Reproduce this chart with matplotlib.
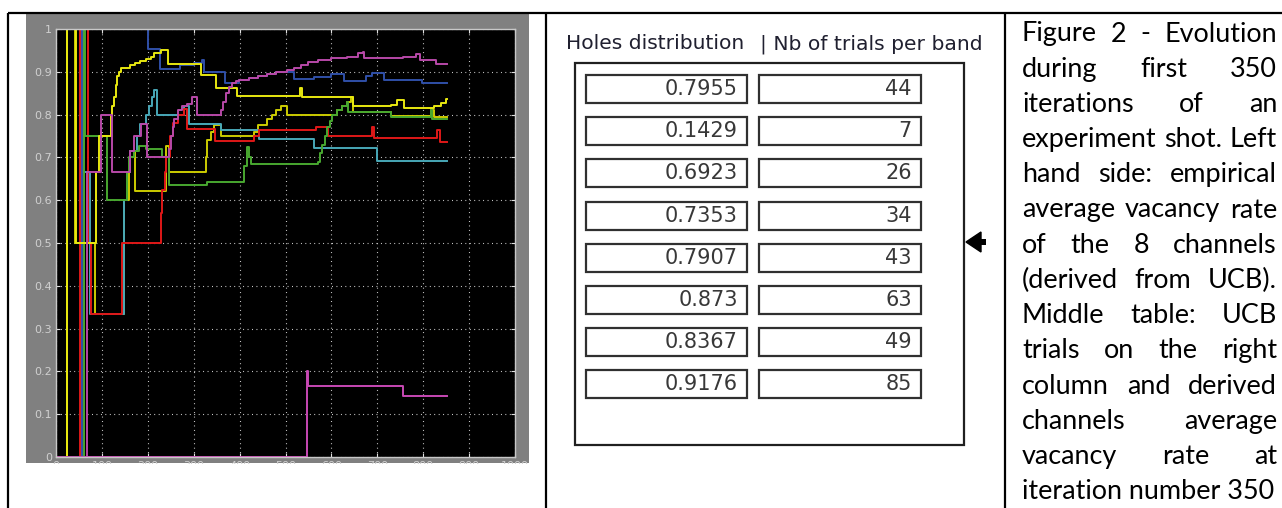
import matplotlib
matplotlib.use('Agg')
import matplotlib.pyplot as plt
from matplotlib.patches import Rectangle, Polygon

# --- datos del scope (iteracion, tasa media de huecos) ---
ch1_x = [0, 24, 41, 86, 148, 158, 162, 173, 240, 247, 326, 330, 337, 344, 359, 432, 440, 460, 470, 479, 490, 504, 613, 624, 635, 642, 646, 729, 816, 824, 852]
ch1_y = [0, 1, 0.5, 0.333, 0.6, 0.667, 0.714, 0.622, 0.727, 0.667, 0.7, 0.74, 0.76, 0.775, 0.75, 0.76, 0.775, 0.79, 0.8, 0.81, 0.82, 0.8, 0.81, 0.82, 0.83, 0.84, 0.807, 0.797, 0.81, 0.7955, 0.7955]

ch2_x = [0, 547, 550, 757, 852]
ch2_y = [0, 0.2, 0.1667, 0.1429, 0.1429]

ch3_x = [0, 55, 58, 73, 148, 155, 162, 177, 184, 195, 202, 210, 213, 221, 279, 290, 359, 443, 562, 700, 852]
ch3_y = [0, 1, 0.667, 0.333, 0.6, 0.667, 0.714, 0.75, 0.778, 0.8, 0.82, 0.84, 0.857, 0.8, 0.82, 0.778, 0.764, 0.742, 0.721, 0.6923, 0.6923]

ch4_x = [0, 52, 70, 77, 143, 228, 232, 237, 240, 248, 255, 265, 279, 286, 347, 432, 443, 566, 593, 689, 693, 831, 836, 852]
ch4_y = [0, 1, 0.5, 0.333, 0.5, 0.571, 0.625, 0.667, 0.7, 0.75, 0.78, 0.8, 0.812, 0.766, 0.739, 0.749, 0.764, 0.772, 0.75, 0.77, 0.745, 0.765, 0.7353, 0.7353]

ch5_x = [0, 62, 63, 111, 155, 160, 170, 180, 195, 230, 247, 330, 410, 416, 421, 424, 570, 575, 580, 585, 590, 596, 602, 613, 624, 635, 637, 729, 816, 820, 852]
ch5_y = [0, 1, 0.75, 0.6, 0.667, 0.7, 0.714, 0.727, 0.72, 0.7, 0.636, 0.643, 0.68, 0.725, 0.7, 0.685, 0.69, 0.71, 0.73, 0.75, 0.77, 0.785, 0.8, 0.81, 0.82, 0.83, 0.805, 0.795, 0.81, 0.7907, 0.7907]

ch6_x = [0, 57, 201, 226, 270, 300, 318, 322, 368, 398, 420, 440, 460, 480, 519, 562, 599, 628, 675, 689, 715, 798, 852]
ch6_y = [0, 1, 0.953, 0.907, 0.915, 0.92, 0.928, 0.9, 0.875, 0.88, 0.885, 0.89, 0.895, 0.9, 0.883, 0.889, 0.895, 0.878, 0.89, 0.898, 0.881, 0.873, 0.873]

ch7_x = [0, 24, 44, 88, 93, 119, 122, 126, 130, 133, 137, 141, 162, 173, 184, 195, 206, 213, 228, 245, 315, 348, 394, 532, 537, 646, 729, 744, 758, 824, 839, 849, 852]
ch7_y = [0, 1, 0.5, 0.667, 0.75, 0.8, 0.82, 0.84, 0.87, 0.89, 0.9, 0.91, 0.915, 0.92, 0.925, 0.93, 0.935, 0.945, 0.952, 0.918, 0.893, 0.862, 0.843, 0.863, 0.84, 0.819, 0.823, 0.834, 0.815, 0.82, 0.826, 0.8367, 0.8367]

ch8_x = [0, 68, 99, 122, 162, 170, 186, 199, 246, 250, 254, 258, 265, 275, 286, 297, 308, 359, 363, 370, 377, 384, 392, 398, 420, 440, 460, 480, 504, 519, 533, 548, 570, 599, 635, 657, 668, 670, 755, 784, 792, 827, 852]
ch8_y = [0, 0.667, 0.8, 0.667, 0.714, 0.75, 0.778, 0.7, 0.72, 0.75, 0.77, 0.79, 0.81, 0.82, 0.825, 0.84, 0.8, 0.81, 0.83, 0.85, 0.865, 0.875, 0.878, 0.88, 0.885, 0.89, 0.895, 0.9, 0.904, 0.908, 0.916, 0.924, 0.928, 0.932, 0.935, 0.943, 0.946, 0.932, 0.935, 0.941, 0.928, 0.9176, 0.9176]

colores = ['#cccc00', '#c848b4', '#48a8b8', '#e01818', '#48a830', '#3050a8', '#e8e810', '#b848a8']

# --- tabla del medio ---
huecos = ['0.7955', '0.1429', '0.6923', '0.7353', '0.7907', '0.873', '0.8367', '0.9176']
pruebas = ['44', '7', '26', '34', '43', '63', '49', '85']

leyenda = ["Figure 2 - Evolution", "during first 350", "iterations of an",
           "experiment shot. Left", "hand side: empirical", "average vacancy rate",
           "of the 8 channels", "(derived from UCB).", "Middle table: UCB",
           "trials on the right", "column and derived", "channels average",
           "vacancy rate at", "iteration number 350"]

W, H = 1282, 508
fig = plt.figure(figsize=(W / 100, H / 100), dpi=100)
fig.patch.set_facecolor('white')
r = fig.canvas.get_renderer()


def ajustar(ax, texto, ancho, familia):
    """Devuelve el tamaño de letra para que el texto mida 'ancho' pixeles."""
    t = ax.text(0, 0, texto, fontsize=20, family=familia)
    w = t.get_window_extent(r).width
    t.remove()
    return 20 * ancho / w


# fondo gris del scope
fondo = fig.add_axes([0, 0, 1, 1], zorder=-1)
fondo.set_xlim(0, W)
fondo.set_ylim(H, 0)
fondo.axis('off')
fondo.add_patch(Rectangle((26, 14), 503, 449, facecolor='#808080', edgecolor='none'))

# scope
ax = fig.add_axes([56 / W, (H - 457) / H, (515 - 56) / W, (457 - 29) / H], zorder=0)
ax.set_facecolor('black')
series = [(ch1_x, ch1_y), (ch2_x, ch2_y), (ch3_x, ch3_y), (ch4_x, ch4_y),
          (ch5_x, ch5_y), (ch6_x, ch6_y), (ch7_x, ch7_y), (ch8_x, ch8_y)]
for (xs, ys), c in zip(series, colores):
    ax.step(xs, ys, where='post', color=c, linewidth=1.4)
ax.set_xlim(0, 1000)
ax.set_ylim(0, 1)
ax.set_xticks(range(0, 1001, 100))
ax.set_yticks([i / 10 for i in range(11)])
ax.set_yticklabels(['0'] + ['0.%d' % i for i in range(1, 10)] + ['1'])
ax.tick_params(direction='in', length=3, color='#e0e0e0', labelcolor='#d0d0d0',
               labelsize=8, top=True, right=True, pad=3)
for s in ax.spines.values():
    s.set_color('#c8c8c8')
    s.set_linewidth(1)
ax.grid(True, color='#e0e0e0', linestyle=(0, (0.8, 3.2)), linewidth=0.8)

# capa de arriba: bordes de la tabla, display y texto
top = fig.add_axes([0, 0, 1, 1], zorder=3)
top.set_xlim(0, W)
top.set_ylim(H, 0)
top.axis('off')
top.patch.set_alpha(0)

# tapa las etiquetas del eje x (quedan cortadas como en la captura)
top.add_patch(Rectangle((20, 463.5), 522, 44, facecolor='white', edgecolor='none'))

# bordes de la tabla del documento
top.plot([8, W], [13, 13], color='black', lw=1.6, solid_capstyle='butt')
for xv in [8, 546, 1005]:
    top.plot([xv, xv], [13, H], color='black', lw=1.6, solid_capstyle='butt')

# display de simulink
f_sim = 'DejaVu Sans'
t_cab = ajustar(top, '| Nb of trials per band', 222, f_sim)
top.text(566, 49, 'Holes distribution', fontsize=t_cab, family=f_sim, color='#202030', va='baseline')
top.text(760, 49, '| Nb of trials per band', fontsize=t_cab, family=f_sim, color='#202030', va='baseline')
top.add_patch(Rectangle((575, 63), 389, 382, facecolor='none', edgecolor='#202020', lw=1.6))
t_num = ajustar(top, '0.7955', 73, f_sim)
for i in range(8):
    y0 = 75 + 42.2 * i
    top.add_patch(Rectangle((586, y0), 161, 28, facecolor='white', edgecolor='#303030', lw=1.6))
    top.add_patch(Rectangle((759, y0), 162, 28, facecolor='white', edgecolor='#303030', lw=1.6))
    top.text(738, y0 + 20, huecos[i], fontsize=t_num, family=f_sim, color='#383838', ha='right', va='baseline')
    top.text(912, y0 + 20, pruebas[i], fontsize=t_num, family=f_sim, color='#383838', ha='right', va='baseline')
top.add_patch(Polygon([(966, 242), (981, 232), (981, 252)], closed=True, facecolor='black', edgecolor='black'))
top.add_patch(Rectangle((981, 239), 5, 6, facecolor='black', edgecolor='none'))

# texto justificado a la derecha
fuente = 'Lato'
x0, x1 = 1022, 1277
tam = min(ajustar(top, l, x1 - x0, fuente) for l in leyenda)

for i, linea in enumerate(leyenda):
    yb = 41.5 + 35.2 * i
    palabras = linea.split(' ')
    if i == len(leyenda) - 1:
        top.text(x0, yb, linea, fontsize=tam, family=fuente, color='black', va='baseline')
        continue
    ts = [top.text(0, yb, p, fontsize=tam, family=fuente, color='black', va='baseline') for p in palabras]
    anchos = [t.get_window_extent(r).width for t in ts]
    hueco = (x1 - x0 - sum(anchos)) / (len(ts) - 1)
    xx = x0
    for t, a in zip(ts, anchos):
        t.set_x(xx)
        xx += a + hueco

fig.savefig('out.png', dpi=100)
